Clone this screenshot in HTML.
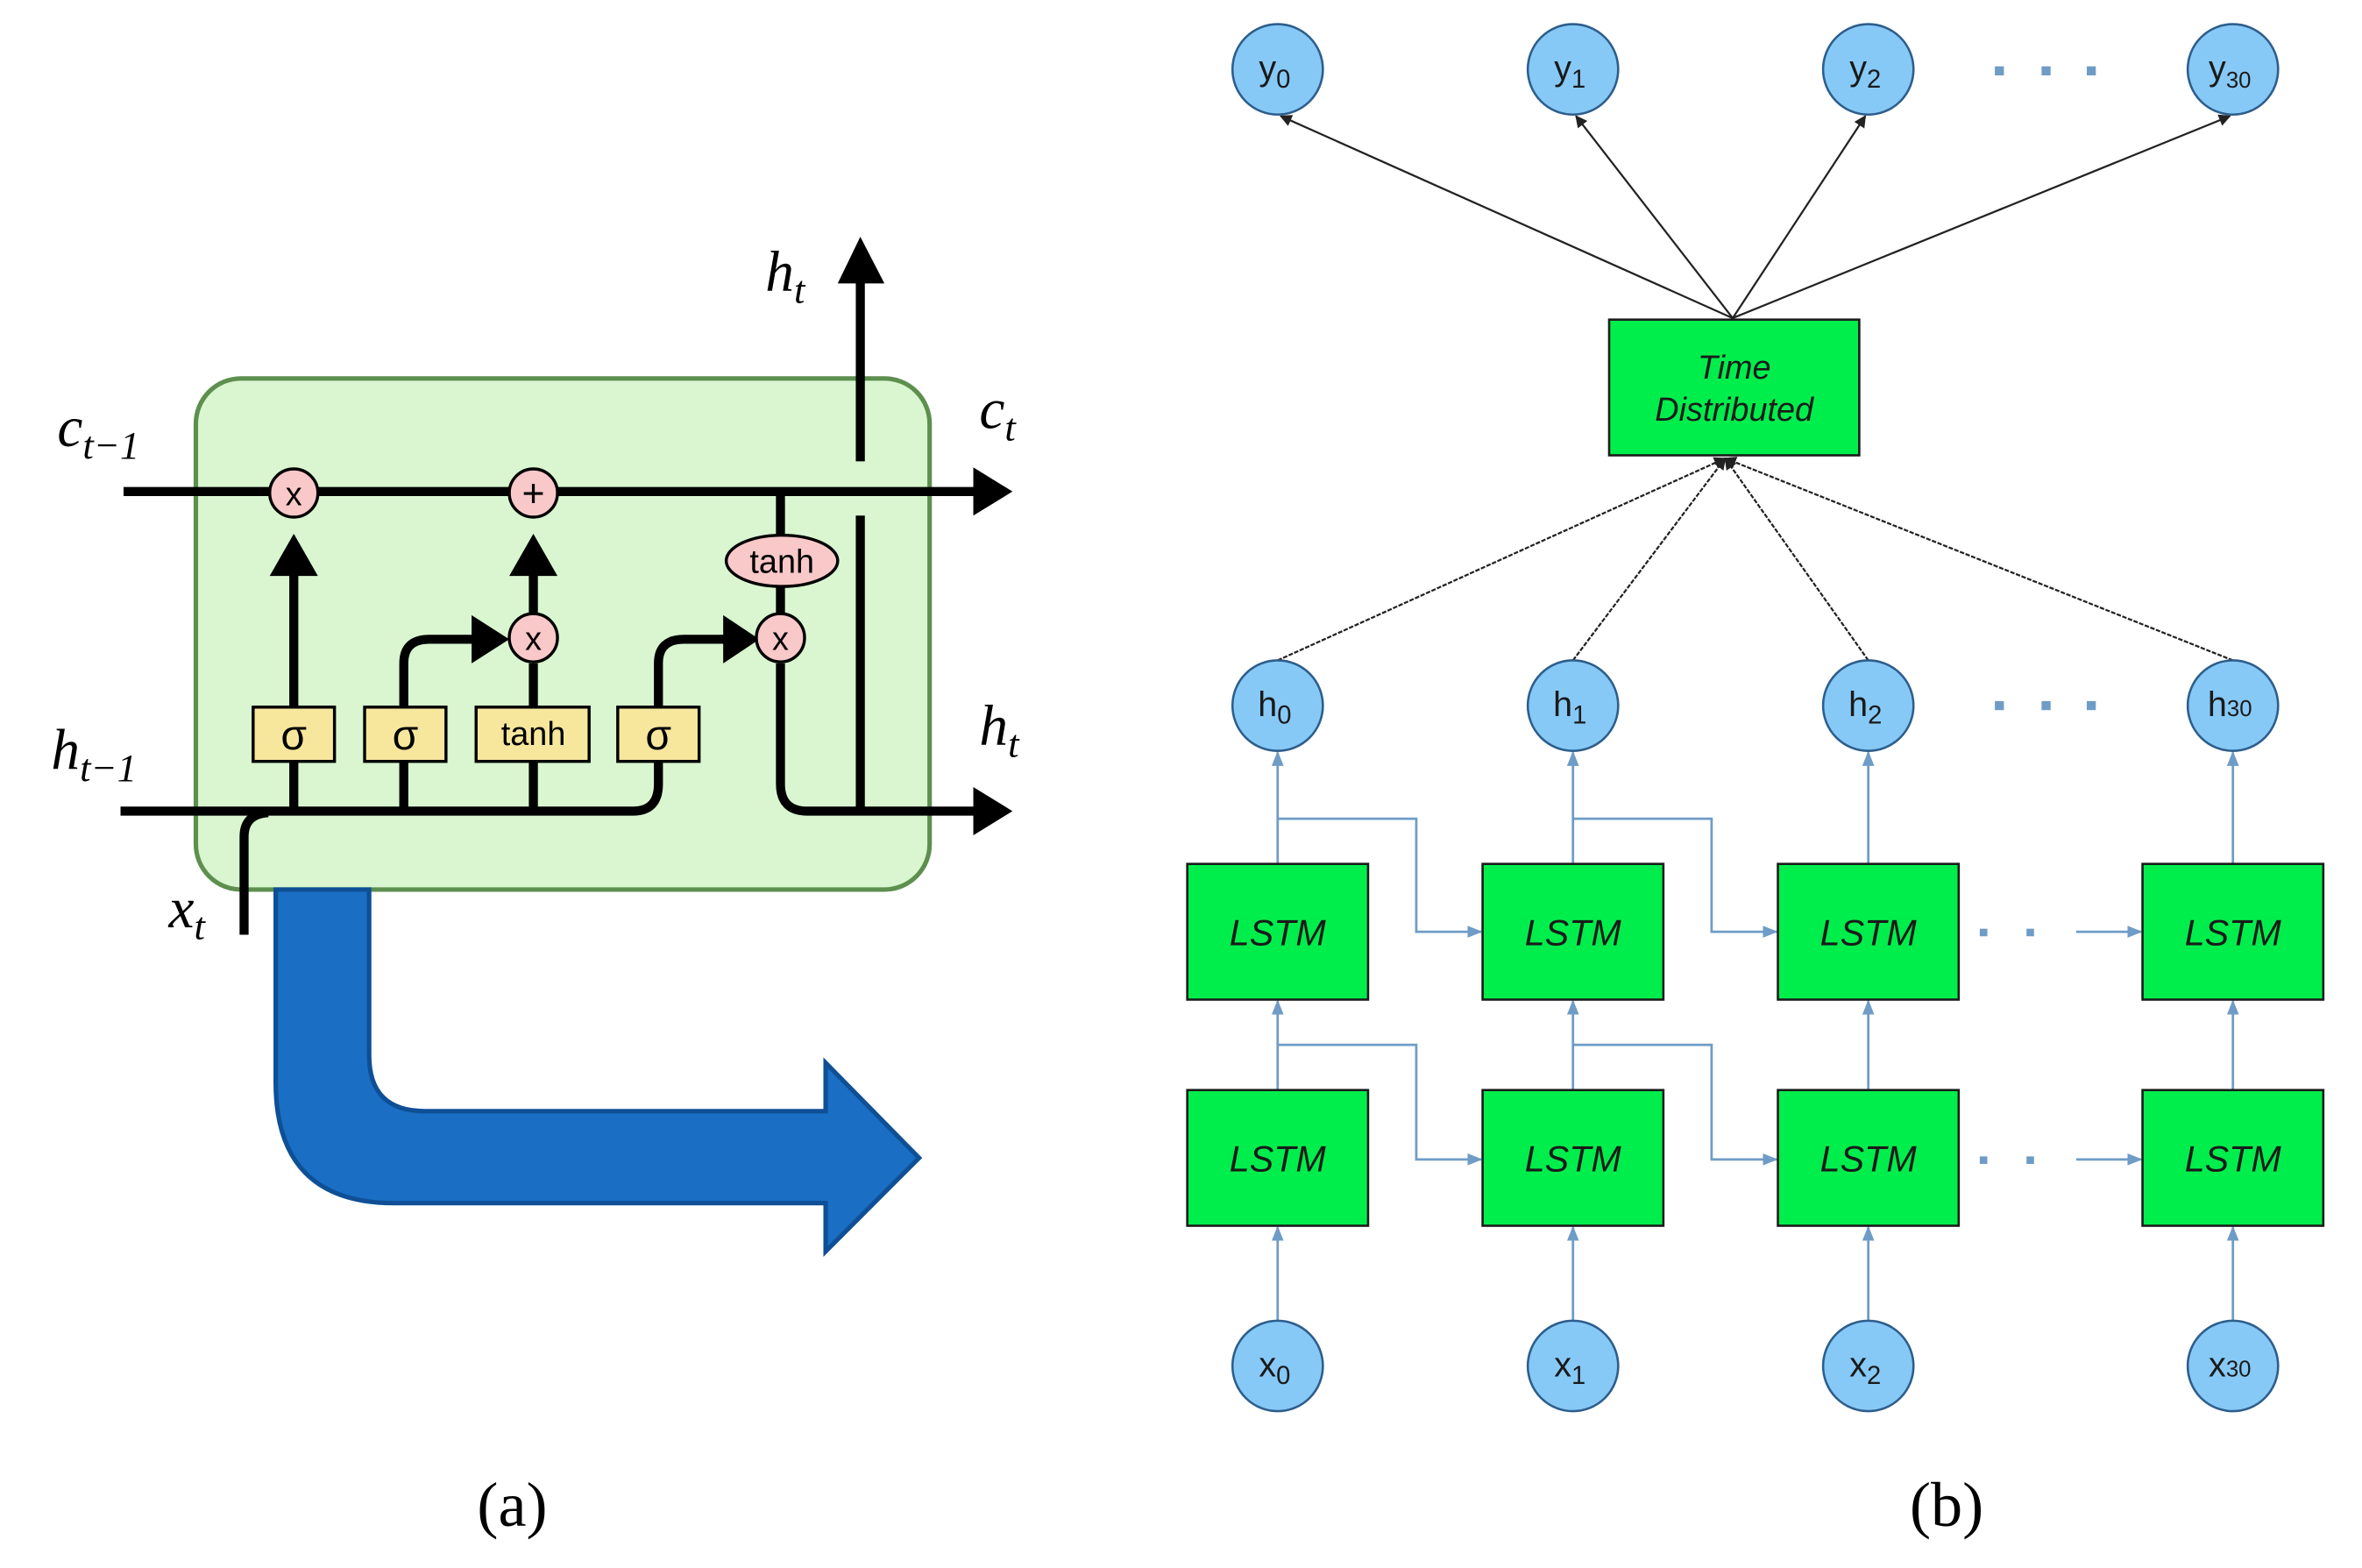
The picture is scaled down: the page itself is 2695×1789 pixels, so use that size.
<!DOCTYPE html>
<html><head><meta charset="utf-8"><style>
html,body{margin:0;padding:0;background:#fff;}
svg{display:block;}
</style></head><body>
<svg width="2695" height="1789" viewBox="0 0 1552 1040" preserveAspectRatio="none" xmlns="http://www.w3.org/2000/svg">
<defs>
<marker id="bk" viewBox="0 0 10 10" refX="9" refY="5" markerWidth="8" markerHeight="8" markerUnits="userSpaceOnUse" orient="auto"><path d="M0,0 L10,5 L0,10 z" fill="#222"/></marker>
<marker id="bl" viewBox="0 0 10 10" refX="9" refY="5" markerWidth="10" markerHeight="10" markerUnits="userSpaceOnUse" orient="auto"><path d="M0,1 L10,5 L0,9 z" fill="#6f9cc6"/></marker>
</defs>
<rect width="1552" height="1040" fill="#fff"/>
<g transform="scale(0.99,1)">
<!-- LEFT -->
<rect x="130" y="251" width="487" height="339" rx="30" fill="#d9f6d1" stroke="#5d8f4e" stroke-width="3"/>
<g stroke="#000" stroke-width="6" fill="none" stroke-linecap="butt">
<line x1="82" y1="326" x2="650" y2="326"/>
<line x1="80" y1="538" x2="420" y2="538"/>
<path d="M420,538 Q437,538 437,520 L437,505"/>
<path d="M162,620 L162,555 Q162,540 178,539"/>
<line x1="195" y1="538" x2="195" y2="505"/>
<line x1="268" y1="538" x2="268" y2="505"/>
<line x1="354" y1="538" x2="354" y2="505"/>
<line x1="195" y1="469" x2="195" y2="380"/>
<line x1="354" y1="469" x2="354" y2="440"/>
<line x1="354" y1="407" x2="354" y2="380"/>
<path d="M268,469 L268,440 Q268,424 285,424 L315,424"/>
<path d="M437,469 L437,440 Q437,424 454,424 L482,424"/>
<line x1="518" y1="326" x2="518" y2="356"/>
<line x1="518" y1="389" x2="518" y2="407"/>
<path d="M518,440 L518,520 Q518,538 536,538 L650,538"/>
<line x1="571" y1="538" x2="571" y2="342"/>
<line x1="571" y1="306" x2="571" y2="185"/>
</g>
<g fill="#000">
<polygon points="646,310 672,326 646,342"/>
<polygon points="646,522 672,538 646,554"/>
<polygon points="179,382 195,354 211,382"/>
<polygon points="338,382 354,354 370,382"/>
<polygon points="313,408 338,424 313,440"/>
<polygon points="480,408 504,424 480,440"/>
<polygon points="556,188 571,157 587,188"/>
</g>
<g fill="#f9c8c8" stroke="#000" stroke-width="2">
<circle cx="195" cy="327" r="16"/><circle cx="354" cy="327" r="16"/>
<circle cx="354" cy="423" r="16"/><circle cx="518" cy="423" r="16"/>
<ellipse cx="519" cy="372" rx="37" ry="17"/>
</g>
<g fill="#f6e79d" stroke="#000" stroke-width="2">
<rect x="168" y="469" width="54" height="36"/><rect x="242" y="469" width="54" height="36"/>
<rect x="316" y="469" width="75" height="36"/><rect x="410" y="469" width="54" height="36"/>
</g>
<g font-family="Liberation Sans, sans-serif" text-anchor="middle" fill="#000">
<text x="195" y="335" font-size="22">x</text><text x="354" y="336" font-size="26">+</text>
<text x="354" y="431" font-size="22">x</text><text x="518" y="431" font-size="22">x</text>
<text x="519" y="380" font-size="22">tanh</text>
<text x="195" y="497" font-size="28">σ</text><text x="269" y="497" font-size="28">σ</text>
<text x="354" y="494" font-size="22">tanh</text><text x="437" y="497" font-size="28">σ</text>
</g>
<g font-family="Liberation Serif, serif" font-style="italic" fill="#000" font-size="38">
<text x="38" y="296">c<tspan font-size="26" dy="8">t−1</tspan></text>
<text x="508" y="193">h<tspan font-size="26" dy="8">t</tspan></text>
<text x="650" y="284">c<tspan font-size="26" dy="8">t</tspan></text>
<text x="34" y="510">h<tspan font-size="26" dy="8">t−1</tspan></text>
<text x="650" y="494">h<tspan font-size="26" dy="8">t</tspan></text>
<text x="112" y="615">x<tspan font-size="26" dy="8">t</tspan></text>
</g>
<path d="M183,590 L245,590 L245,700 Q245,737 282,737 L548,737 L548,705 L610,768 L548,830 L548,798 L262,798 Q183,798 183,718 Z" fill="#1a6fc4" stroke="#0e4f95" stroke-width="3"/>
<text x="340" y="1012" font-family="Liberation Serif, serif" font-size="42" text-anchor="middle">(a)</text>
<text x="1292" y="1012" font-family="Liberation Serif, serif" font-size="42" text-anchor="middle">(b)</text>
<!-- RIGHT -->
<g stroke="#222" stroke-width="1.3" fill="none">
<line x1="1150" y1="211" x2="850" y2="77" marker-end="url(#bk)"/>
<line x1="1150" y1="211" x2="1046" y2="77" marker-end="url(#bk)"/>
<line x1="1150" y1="211" x2="1238" y2="77" marker-end="url(#bk)"/>
<line x1="1150" y1="211" x2="1480" y2="77" marker-end="url(#bk)"/>
<g stroke-dasharray="3,1">
<line x1="848" y1="438" x2="1145" y2="304" marker-end="url(#bk)"/>
<line x1="1044" y1="438" x2="1145" y2="304" marker-end="url(#bk)"/>
<line x1="1240" y1="438" x2="1145" y2="304" marker-end="url(#bk)"/>
<line x1="1482" y1="438" x2="1145" y2="304" marker-end="url(#bk)"/>
</g>
</g>
<g stroke="#6f9cc6" stroke-width="1.6" fill="none">
<line x1="848" y1="573" x2="848" y2="499" marker-end="url(#bl)"/>
<line x1="1044" y1="573" x2="1044" y2="499" marker-end="url(#bl)"/>
<line x1="1240" y1="573" x2="1240" y2="499" marker-end="url(#bl)"/>
<line x1="1482" y1="573" x2="1482" y2="499" marker-end="url(#bl)"/>
<line x1="848" y1="723" x2="848" y2="664" marker-end="url(#bl)"/>
<line x1="1044" y1="723" x2="1044" y2="664" marker-end="url(#bl)"/>
<line x1="1240" y1="723" x2="1240" y2="664" marker-end="url(#bl)"/>
<line x1="1482" y1="723" x2="1482" y2="664" marker-end="url(#bl)"/>
<line x1="848" y1="876" x2="848" y2="814" marker-end="url(#bl)"/>
<line x1="1044" y1="876" x2="1044" y2="814" marker-end="url(#bl)"/>
<line x1="1240" y1="876" x2="1240" y2="814" marker-end="url(#bl)"/>
<line x1="1482" y1="876" x2="1482" y2="814" marker-end="url(#bl)"/>
<path d="M848,543 L940,543 L940,618 L983,618" marker-end="url(#bl)"/>
<path d="M1044,543 L1136,543 L1136,618 L1179,618" marker-end="url(#bl)"/>
<path d="M848,693 L940,693 L940,769 L983,769" marker-end="url(#bl)"/>
<path d="M1044,693 L1136,693 L1136,769 L1179,769" marker-end="url(#bl)"/>
<line x1="1378" y1="618" x2="1421" y2="618" marker-end="url(#bl)"/>
<line x1="1378" y1="769" x2="1421" y2="769" marker-end="url(#bl)"/>
</g>
<g fill="#6f9cc6">
<rect x="1314" y="616" width="5" height="5"/><rect x="1345" y="616" width="5" height="5"/>
<rect x="1314" y="767" width="5" height="5"/><rect x="1345" y="767" width="5" height="5"/>
<rect x="1324" y="44" width="6" height="6"/><rect x="1355" y="44" width="6" height="6"/><rect x="1385" y="44" width="6" height="6"/>
<rect x="1324" y="465" width="6" height="6"/><rect x="1355" y="465" width="6" height="6"/><rect x="1385" y="465" width="6" height="6"/>
</g>
<g fill="#00ee4c" stroke="#1a1a1a" stroke-width="1.5">
<rect x="1068" y="212" width="166" height="90"/>
<rect x="788" y="573" width="120" height="90"/><rect x="984" y="573" width="120" height="90"/>
<rect x="1180" y="573" width="120" height="90"/><rect x="1422" y="573" width="120" height="90"/>
<rect x="788" y="723" width="120" height="90"/><rect x="984" y="723" width="120" height="90"/>
<rect x="1180" y="723" width="120" height="90"/><rect x="1422" y="723" width="120" height="90"/>
</g>
<g fill="#87c9f6" stroke="#2d5e8c" stroke-width="1.5">
<circle cx="848" cy="46" r="30"/><circle cx="1044" cy="46" r="30"/><circle cx="1240" cy="46" r="30"/><circle cx="1482" cy="46" r="30"/>
<circle cx="848" cy="468" r="30"/><circle cx="1044" cy="468" r="30"/><circle cx="1240" cy="468" r="30"/><circle cx="1482" cy="468" r="30"/>
<circle cx="848" cy="906" r="30"/><circle cx="1044" cy="906" r="30"/><circle cx="1240" cy="906" r="30"/><circle cx="1482" cy="906" r="30"/>
</g>
<g font-family="Liberation Sans, sans-serif" text-anchor="middle" fill="#1a1a1a" font-size="23">
<text x="846" y="53">y<tspan font-size="17" dy="5">0</tspan></text>
<text x="1042" y="53">y<tspan font-size="17" dy="5">1</tspan></text>
<text x="1238" y="53">y<tspan font-size="17" dy="5">2</tspan></text>
<text x="1480" y="53">y<tspan font-size="15" dy="5">30</tspan></text>
<text x="846" y="475">h<tspan font-size="17" dy="5">0</tspan></text>
<text x="1042" y="475">h<tspan font-size="17" dy="5">1</tspan></text>
<text x="1238" y="475">h<tspan font-size="17" dy="5">2</tspan></text>
<text x="1480" y="475">h<tspan font-size="15" dy="0">30</tspan></text>
<text x="846" y="913">x<tspan font-size="17" dy="5">0</tspan></text>
<text x="1042" y="913">x<tspan font-size="17" dy="5">1</tspan></text>
<text x="1238" y="913">x<tspan font-size="17" dy="5">2</tspan></text>
<text x="1480" y="913">x<tspan font-size="15" dy="0">30</tspan></text>
</g>
<g font-family="Liberation Sans, sans-serif" font-style="italic" text-anchor="middle" fill="#1a1a1a" font-size="24">
<text x="848" y="627">LSTM</text><text x="1044" y="627">LSTM</text><text x="1240" y="627">LSTM</text><text x="1482" y="627">LSTM</text>
<text x="848" y="777">LSTM</text><text x="1044" y="777">LSTM</text><text x="1240" y="777">LSTM</text><text x="1482" y="777">LSTM</text>
<text x="1151" y="251" font-size="22">Time</text>
<text x="1151" y="279" font-size="22">Distributed</text>
</g>
</g>
</svg>
</body></html>
